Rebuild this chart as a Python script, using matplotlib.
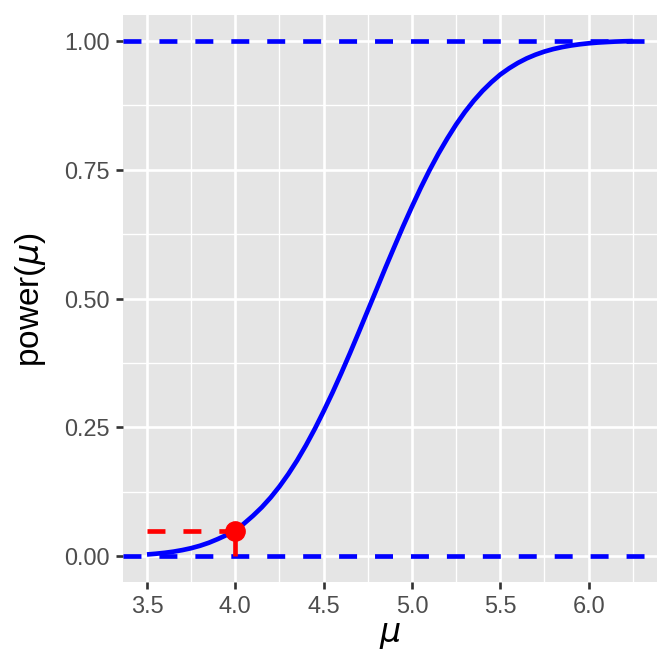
import matplotlib
matplotlib.use("Agg")
import matplotlib.pyplot as plt

# power curve values
mu_vals = [3.5, 3.55, 3.6, 3.65, 3.7, 3.75, 3.8, 3.85, 3.9, 3.95,
           4.0, 4.05, 4.1, 4.15, 4.2, 4.25, 4.3, 4.35, 4.4, 4.45,
           4.5, 4.55, 4.6, 4.65, 4.7, 4.75, 4.8, 4.85, 4.9, 4.95,
           5.0, 5.05, 5.1, 5.15, 5.2, 5.25, 5.3, 5.35, 5.4, 5.45,
           5.5, 5.55, 5.6, 5.65, 5.7, 5.75, 5.8, 5.85, 5.9, 5.95,
           6.0, 6.05, 6.1, 6.15, 6.2, 6.25]
power_vals = [0.0039, 0.0053, 0.0071, 0.0094, 0.0124, 0.0161, 0.0208, 0.0266, 0.0337, 0.0415,
              0.0500, 0.0640, 0.0789, 0.0954, 0.1143, 0.1357, 0.1597, 0.1862, 0.2155, 0.2473,
              0.2815, 0.3174, 0.3554, 0.3948, 0.4355, 0.4768, 0.5180, 0.5596, 0.6000, 0.6399,
              0.6780, 0.7146, 0.7490, 0.7808, 0.8100, 0.8372, 0.8616, 0.8833, 0.9025, 0.9192,
              0.9340, 0.9461, 0.9566, 0.9654, 0.9726, 0.9786, 0.9834, 0.9872, 0.9903, 0.9927,
              0.9946, 0.9960, 0.9970, 0.9979, 0.9985, 0.9989]
mu0 = 4.0
alpha = 0.05
ref_levels = [0.0, 1.0]
x_ticks = [3.5, 4.0, 4.5, 5.0, 5.5, 6.0]
x_minor = [3.75, 4.25, 4.75, 5.25, 5.75, 6.25]
y_ticks = [0.0, 0.25, 0.5, 0.75, 1.0]
y_minor = [0.125, 0.375, 0.625, 0.875]
y_tick_labels = ["0.00", "0.25", "0.50", "0.75", "1.00"]

plt.rcParams['font.family'] = ['Liberation Sans', 'DejaVu Sans']
plt.rcParams['mathtext.fontset'] = 'dejavusans'

fig = plt.figure(figsize=(7, 7), dpi=96)
ax = fig.add_axes([0.1826, 0.1335, 0.9777 - 0.1826, 0.9781 - 0.1335])
ax.set_facecolor('#E5E5E5')
for s in ax.spines.values():
    s.set_visible(False)

# grid, ggplot style
for v in x_minor:
    ax.axvline(v, color='white', lw=1.0, zorder=0.5)
for v in y_minor:
    ax.axhline(v, color='white', lw=1.0, zorder=0.5)
for v in x_ticks:
    ax.axvline(v, color='white', lw=2.0, zorder=0.6)
for v in y_ticks:
    ax.axhline(v, color='white', lw=2.0, zorder=0.6)

dash = (3.85, 3.85)
ax.plot(mu_vals, power_vals, color='blue', lw=3.5, zorder=2,
        solid_capstyle='butt', solid_joinstyle='round')
for lv in ref_levels:
    ax.axhline(lv, color='blue', lw=3.5, dashes=dash, zorder=3)

ax.plot([mu_vals[0], mu0], [alpha, alpha], color='red', lw=3.5, dashes=dash, zorder=3)
ax.plot([mu0, mu0], [0, alpha], color='red', lw=3.5, dashes=dash, zorder=3)
ax.plot([mu0], [alpha], 'o', color='red', ms=14.5, zorder=4)

span = mu_vals[-1] - mu_vals[0]
ax.set_xlim(mu_vals[0] - 0.05 * span, mu_vals[-1] + 0.05 * span)
ax.set_ylim(-0.05, 1.05)
ax.set_xticks(x_ticks)
ax.set_xticklabels([f"{v:.1f}" for v in x_ticks])
ax.set_yticks(y_ticks)
ax.set_yticklabels(y_tick_labels)
ax.tick_params(axis='both', length=5.5, width=2.0, color='#333333',
               labelcolor='#4D4D4D', labelsize=17.6, pad=4.4)

fig.text(30 / 672, 1 - 300 / 672, r"power($\mu$)", rotation=90,
         ha='center', va='center', fontsize=25, color='black')
fig.text((122.7 + 657) / 2 / 672, 1 - 642 / 672, r"$\mu$",
         ha='center', va='baseline', fontsize=25, color='black')

fig.savefig("out.png", dpi=96)
